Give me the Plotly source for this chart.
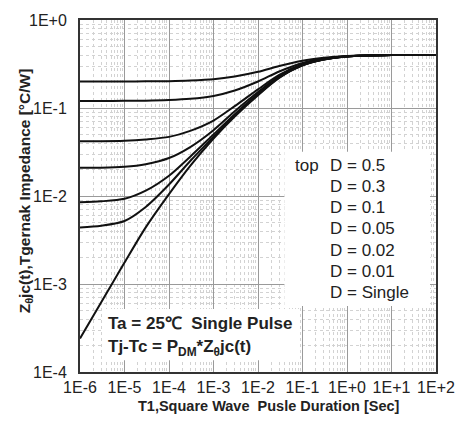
import numpy as np
import plotly.graph_objects as go

# Pulse duration (s) at which each curve is sampled
pulse_t = [1e-6, 3e-6, 1e-5, 3e-5, 1e-4, 3e-4, 1e-3, 3e-3, 1e-2, 3e-2, 1e-1, 3e-1, 1, 10, 100]

# Transient thermal impedance Zθjc(t) [°C/W] for each duty cycle
z_d050 = [0.200, 0.200, 0.200, 0.201, 0.202, 0.205, 0.212, 0.228, 0.258, 0.300, 0.345, 0.372, 0.390, 0.400, 0.400]
z_d030 = [0.120, 0.120, 0.1205, 0.121, 0.123, 0.127, 0.137, 0.158, 0.200, 0.260, 0.325, 0.365, 0.388, 0.400, 0.400]
z_d010 = [0.042, 0.042, 0.0425, 0.044, 0.047, 0.055, 0.072, 0.105, 0.163, 0.238, 0.315, 0.360, 0.387, 0.400, 0.400]
z_d005 = [0.021, 0.021, 0.0215, 0.023, 0.027, 0.036, 0.056, 0.092, 0.152, 0.230, 0.310, 0.358, 0.386, 0.400, 0.400]
z_d002 = [0.0085, 0.0087, 0.0093, 0.0115, 0.017, 0.028, 0.050, 0.085, 0.145, 0.225, 0.307, 0.356, 0.386, 0.400, 0.400]
z_d001 = [0.0044, 0.0046, 0.0052, 0.0075, 0.0135, 0.025, 0.047, 0.082, 0.142, 0.222, 0.306, 0.356, 0.385, 0.400, 0.400]
z_single = [2.4e-4, 6.2e-4, 1.75e-3, 4.4e-3, 0.0105, 0.022, 0.045, 0.080, 0.140, 0.220, 0.305, 0.355, 0.385, 0.400, 0.400]

series = [z_d050, z_d030, z_d010, z_d005, z_d002, z_d001, z_single]
legend_lines = ["D = 0.5", "D = 0.3", "D = 0.1", "D = 0.05", "D = 0.02", "D = 0.01", "D = Single"]

x_tick_vals = [1e-6, 1e-5, 1e-4, 1e-3, 1e-2, 1e-1, 1e0, 1e1, 1e2]
x_tick_text = ["1E-6", "1E-5", "1E-4", "1E-3", "1E-2", "1E-1", "1E+0", "1E+1", "1E+2"]
y_tick_vals = [1e-4, 1e-3, 1e-2, 1e-1, 1e0]
y_tick_text = ["1E-4", "1E-3", "1E-2", "1E-1", "1E+0"]

FONT = "Liberation Sans, Arial, sans-serif"
INK = "#222222"

# plot-area geometry in pixels
L, R, T, B = 80, 437, 14, 372


def px(xp):
    return (xp - L) / (R - L)


def py(yp):
    return 1 - (yp - T) / (B - T)


fig = go.Figure()
for z in series:
    fig.add_trace(go.Scatter(
        x=pulse_t, y=z, mode="lines",
        line=dict(color="#111111", width=2, shape="spline", smoothing=0.8),
        showlegend=False, hoverinfo="skip",
    ))


def minor_positions(lo, hi):
    vals = []
    for e in range(lo, hi):
        for m in range(2, 10):
            vals.append(m * 10.0 ** e)
    return vals


axis_common = dict(
    type="log",
    showline=True, linecolor="#333333", linewidth=2, mirror=True,
    showgrid=True, gridcolor="#9a9a9a", gridwidth=1,
    ticks="", zeroline=False,
    tickfont=dict(family=FONT, size=16, color=INK),
)

fig.update_xaxes(
    **axis_common,
    range=[-6, 2],
    tickvals=x_tick_vals, ticktext=x_tick_text,
    minor=dict(tickvals=minor_positions(-6, 2), showgrid=True,
               gridcolor="#d2d2d2", griddash="dot", gridwidth=1, ticks=""),
)
fig.update_yaxes(
    **axis_common,
    range=[-4, 0],
    tickvals=y_tick_vals, ticktext=y_tick_text,
    ticklabelstandoff=8,
    minor=dict(tickvals=minor_positions(-4, 0), showgrid=True,
               gridcolor="#d2d2d2", griddash="dot", gridwidth=1, ticks=""),
)

# Axis titles
fig.add_annotation(xref="paper", yref="paper", x=px(270), y=py(407),
                   text="<b>T1,Square Wave  Pusle Duration [Sec]</b>",
                   showarrow=False, xanchor="center", yanchor="middle",
                   font=dict(family=FONT, size=14.5, color=INK))
fig.add_annotation(xref="paper", yref="paper", x=px(25), y=py(188),
                   text="<b>Z<sub>θ</sub>jc(t),Tgernak Impedance [°C/W]</b>",
                   showarrow=False, textangle=-90, xanchor="center", yanchor="middle",
                   font=dict(family=FONT, size=15.5, color=INK))

# White panels behind the legend text and the test conditions
fig.add_shape(type="rect", xref="paper", yref="paper",
              x0=px(285), x1=px(431), y0=py(305), y1=py(148),
              fillcolor="white", line=dict(width=0), layer="above")
fig.add_shape(type="rect", xref="paper", yref="paper",
              x0=px(103), x1=px(300), y0=py(360), y1=py(308),
              fillcolor="white", line=dict(width=0), layer="above")

fig.add_annotation(xref="paper", yref="paper", x=px(294), y=py(162),
                   text="top", showarrow=False, xanchor="left", yanchor="middle",
                   font=dict(family=FONT, size=17, color=INK))
for i, label in enumerate(legend_lines):
    fig.add_annotation(xref="paper", yref="paper",
                       x=px(329), y=py(162 + 21.5 * i),
                       text=label, showarrow=False, xanchor="left", yanchor="middle",
                       font=dict(family=FONT, size=17, color=INK))

fig.add_annotation(xref="paper", yref="paper", x=px(106), y=py(323),
                   text="<b>Ta = 25℃  Single Pulse</b>", showarrow=False,
                   xanchor="left", yanchor="middle",
                   font=dict(family=FONT, size=17, color=INK))
fig.add_annotation(xref="paper", yref="paper", x=px(106), y=py(348),
                   text="<b>Tj-Tc = P<sub>DM</sub>*Z<sub>θ</sub>jc(t)</b>", showarrow=False,
                   xanchor="left", yanchor="middle",
                   font=dict(family=FONT, size=17, color=INK))

fig.update_layout(
    width=467, height=423,
    margin=dict(l=L, r=467 - R, t=T, b=423 - B),
    paper_bgcolor="white", plot_bgcolor="white",
)

fig.write_html("out.html")
